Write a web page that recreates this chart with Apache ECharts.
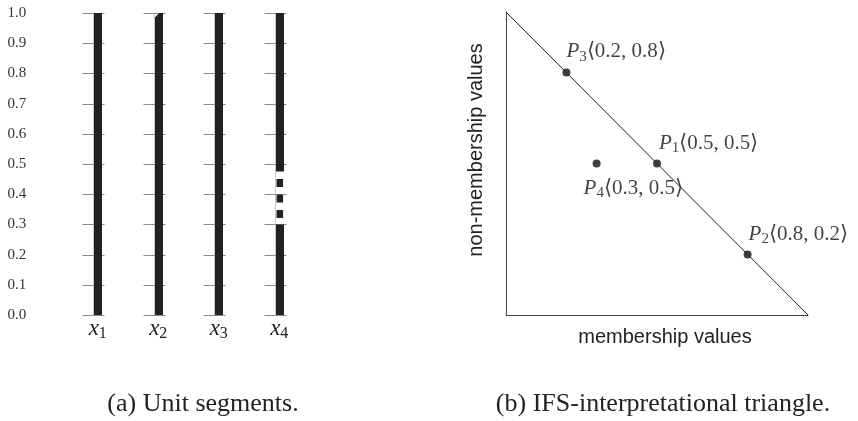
<!DOCTYPE html>
<html>
<head>
<meta charset="utf-8">
<script src="https://cdn.jsdelivr.net/npm/echarts@6/dist/echarts.min.js"></script>
<style>
html,body{margin:0;padding:0;background:#fff;}
#chart{width:858px;height:421px;}
</style>
</head>
<body>
<div id="chart"></div>
<script>
// ---------- data: panel (a) unit segments ----------
const categories = ['x1', 'x2', 'x3', 'x4'];
const yTickValues = [0, 0.1, 0.2, 0.3, 0.4, 0.5, 0.6, 0.7, 0.8, 0.9, 1.0];
const solidRanges = [[[0, 1]], [[0, 1]], [[0, 1]], [[0, 0.3], [0.475, 1]]];
const dashedRanges = [[], [], [], [[0.3, 0.475]]];
const topLeftCorner = [1, 0.985, 1, 1];

// ---------- data: panel (b) IFS triangle ----------
const pointNames = ['P1', 'P2', 'P3', 'P4'];
const memberships = [0.5, 0.8, 0.2, 0.3];
const nonMemberships = [0.5, 0.2, 0.8, 0.5];
const diagonalX = [0, 1];
const diagonalY = [1, 0];

const captionA = '(a) Unit segments.';
const captionB = '(b) IFS-interpretational triangle.';
const xTitle = 'membership values';
const yTitle = 'non-membership values';

// ---------- layout (not data) ----------
const labelPlacement = { P1: [2, -20], P2: [1, -20], P3: [0, -21], P4: [-13, 25] };
const SERIF = 'Liberation Serif';

const chart = echarts.init(document.getElementById('chart'), null, { renderer: 'canvas' });

function renderColumn(params, api) {
  const i = api.value(0);
  const base = api.coord([i, 0]);
  const top = api.coord([i, 1]);
  const cx = Math.round(base[0]) - 0.5;
  const children = [];
  children.push({ type: 'line', shape: { x1: cx, y1: base[1], x2: cx, y2: top[1] },
    style: { stroke: '#c8c8c8', lineWidth: 1 } });
  yTickValues.forEach(v => {
    const y = Math.round(api.coord([i, v])[1]) + 0.5;
    children.push({ type: 'line', shape: { x1: cx - 11, y1: y, x2: cx + 11, y2: y },
      style: { stroke: '#8c8c8c', lineWidth: 1 } });
  });
  solidRanges[i].forEach(r => {
    const ya = api.coord([i, r[0]])[1];
    const yb = api.coord([i, r[1]])[1];
    const yc = r[1] === 1 ? api.coord([i, topLeftCorner[i]])[1] : yb;
    children.push({ type: 'polygon', shape: { points: [
      [cx + 0.5, ya], [cx + 0.5, yc], [cx + 4.5, yb], [cx + 8.5, yb], [cx + 8.5, ya]] },
      style: { fill: '#222' } });
  });
  dashedRanges[i].forEach(r => {
    const ya = api.coord([i, r[0]])[1];
    const yb = api.coord([i, r[1]])[1];
    children.push({ type: 'line', shape: { x1: cx + 4.3, y1: yb + 7.5, x2: cx + 4.3, y2: ya },
      style: { stroke: '#222', lineWidth: 6.5, lineDash: [8, 7.5] } });
  });
  return { type: 'group', children: children };
}

const option = {
  backgroundColor: '#fff',
  animation: false,
  grid: [
    { left: 64, width: 242, top: 13, bottom: 106 },
    { left: 506, right: 50, top: 12, bottom: 106 }
  ],
  xAxis: [
    { type: 'category', gridIndex: 0, data: categories, boundaryGap: true,
      axisLine: { show: false }, axisTick: { show: false }, splitLine: { show: false },
      axisLabel: { interval: 0, margin: 0, padding: [0, 0, 0, 7],
        formatter: v => '{v|' + v[0] + '}{s|' + v.slice(1) + '}',
        rich: {
          v: { fontFamily: SERIF, fontStyle: 'italic', fontSize: 23, color: '#222' },
          s: { fontFamily: SERIF, fontSize: 16, color: '#222', padding: [11, 0, 0, 0] }
        } } },
    { type: 'value', gridIndex: 1, min: 0, max: 1,
      axisLine: { show: true, lineStyle: { color: '#444', width: 1 } },
      axisTick: { show: false }, axisLabel: { show: false }, splitLine: { show: false } }
  ],
  yAxis: [
    { type: 'value', gridIndex: 0, min: 0, max: 1, interval: 0.1,
      axisLine: { show: false }, axisTick: { show: false }, splitLine: { show: false },
      axisLabel: { align: 'left', margin: 56.5, fontFamily: SERIF, fontSize: 15, color: '#333',
        formatter: v => v.toFixed(1) } },
    { type: 'value', gridIndex: 1, min: 0, max: 1,
      axisLine: { show: true, lineStyle: { color: '#444', width: 1 } },
      axisTick: { show: false }, axisLabel: { show: false }, splitLine: { show: false } }
  ],
  series: [
    { type: 'custom', xAxisIndex: 0, yAxisIndex: 0, clip: false,
      data: categories.map((c, i) => [i]),
      renderItem: renderColumn, silent: true },
    { type: 'line', xAxisIndex: 1, yAxisIndex: 1, showSymbol: false, silent: true,
      data: diagonalX.map((x, k) => [x, diagonalY[k]]),
      lineStyle: { color: '#222', width: 1 } },
    { type: 'scatter', xAxisIndex: 1, yAxisIndex: 1, symbolSize: 8, silent: true,
      itemStyle: { color: '#111' },
      data: pointNames.map((n, k) => ({
        name: n, value: [memberships[k], nonMemberships[k]],
        label: { position: [labelPlacement[n][0] + 4, labelPlacement[n][1] + 4] }
      })),
      label: { show: true, align: 'left', verticalAlign: 'middle',
        formatter: p => '{p|' + p.name[0] + '}{s|' + p.name.slice(1) + '}{t|\u27E8' +
          p.value[0].toFixed(1) + ', ' + p.value[1].toFixed(1) + '\u27E9}',
        rich: {
          p: { fontFamily: SERIF, fontStyle: 'italic', fontSize: 21, color: '#111' },
          s: { fontFamily: SERIF, fontSize: 15, color: '#111', padding: [10, 0, 0, 0] },
          t: { fontFamily: SERIF, fontSize: 21, color: '#111' }
        } } }
  ],
  graphic: [
    { type: 'text', x: 665, y: 337, silent: true,
      style: { text: xTitle, fontFamily: 'Liberation Sans', fontSize: 20, fill: '#222',
        align: 'center', verticalAlign: 'middle' } },
    { type: 'text', x: 476.5, y: 150, rotation: Math.PI / 2, silent: true,
      style: { text: yTitle, fontFamily: 'Liberation Sans', fontSize: 20, fill: '#222',
        align: 'center', verticalAlign: 'middle' } },
    { type: 'text', x: 203, y: 404, silent: true,
      style: { text: captionA, fontFamily: 'Liberation Serif', fontSize: 26, fill: '#222',
        align: 'center', verticalAlign: 'middle' } },
    { type: 'text', x: 663, y: 404, silent: true,
      style: { text: captionB, fontFamily: 'Liberation Serif', fontSize: 26, fill: '#222',
        align: 'center', verticalAlign: 'middle' } }
  ]
};
chart.setOption(option);
</script>
</body>
</html>
